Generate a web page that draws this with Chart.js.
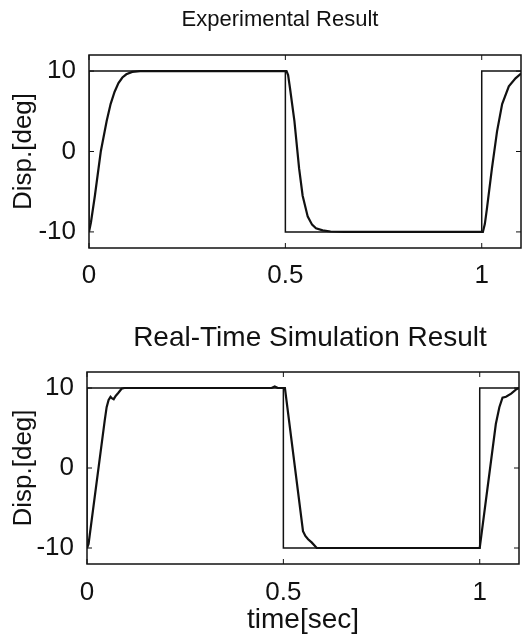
<!DOCTYPE html>
<html>
<head>
<meta charset="utf-8">
<script src="https://cdn.jsdelivr.net/npm/chart.js@4.4.1/dist/chart.umd.min.js"></script>
<style>
  body { margin: 0; background: #fff; overflow: hidden; }
  #wrap { position: relative; width: 522px; height: 641px; }
  canvas { position: absolute; left: 0; }
</style>
</head>
<body>
<div id="wrap">
  <canvas id="expChart" width="522" height="310" style="top:0px"></canvas>
  <canvas id="simChart" width="522" height="331" style="top:310px"></canvas>
</div>
<script>
// tick labels
const xTicks = [0, 0.5, 1];
const yTicks = [-10, 0, 10];

// commanded square wave
const refTime = [0, 0, 0.5, 0.5, 1, 1, 1.1];
const refDisp = [-10, 10, 10, -10, -10, 10, 10];

// experimental response
const expTime = [0, 0.005, 0.015, 0.03, 0.045, 0.055, 0.065, 0.075, 0.085, 0.095, 0.11, 0.13, 0.3,
  0.503, 0.507, 0.512, 0.523, 0.535, 0.544, 0.557, 0.568, 0.578, 0.595, 0.615, 0.65, 0.8,
  1.003, 1.008, 1.013, 1.026, 1.039, 1.052, 1.069, 1.086, 1.1];
const expDisp = [-10, -8.8, -5.5, 0, 3.8, 5.9, 7.4, 8.5, 9.2, 9.6, 9.9, 10, 10,
  10, 9.5, 7.8, 3.8, -2.1, -5.5, -8.1, -9.1, -9.55, -9.8, -9.95, -10, -10,
  -10, -9, -7.2, -2.1, 2.5, 5.9, 8.1, 9.1, 9.7];

// real-time simulation response
const simTime = [0, 0.004, 0.045, 0.05, 0.055, 0.06, 0.064, 0.068, 0.073, 0.08, 0.088, 0.095, 0.3,
  0.47, 0.478, 0.486, 0.504, 0.55, 0.556, 0.563, 0.572, 0.585, 0.8,
  1.0, 1.041, 1.05, 1.058, 1.067, 1.08, 1.092, 1.1];
const simDisp = [-10, -9.5, 5.9, 7.6, 8.5, 8.9, 8.7, 8.6, 9.0, 9.4, 9.9, 10, 10,
  10, 10.2, 10, 10, -7.9, -8.5, -8.9, -9.3, -10, -10,
  -10, 5.5, 7.6, 8.8, 8.9, 9.3, 9.8, 10];

const FONT = "'Liberation Sans', Arial, sans-serif";

function toPoints(xs, ys) {
  return xs.map((x, i) => ({ x: x, y: ys[i] }));
}

// box around the plot with inward ticks, matlab style
const boxPlugin = {
  id: 'box',
  afterDraw(chart) {
    const ctx = chart.ctx;
    const a = chart.chartArea;
    const xs = chart.scales.x, ys = chart.scales.y;
    ctx.save();
    ctx.strokeStyle = '#111';
    ctx.lineWidth = 1.5;
    ctx.strokeRect(a.left, a.top, a.right - a.left, a.bottom - a.top);
    ctx.lineWidth = 1;
    ctx.beginPath();
    xTicks.forEach(v => {
      const px = xs.getPixelForValue(v);
      ctx.moveTo(px, a.bottom); ctx.lineTo(px, a.bottom - 5);
      ctx.moveTo(px, a.top); ctx.lineTo(px, a.top + 5);
    });
    yTicks.forEach(v => {
      const py = ys.getPixelForValue(v);
      ctx.moveTo(a.left, py); ctx.lineTo(a.left + 5, py);
      ctx.moveTo(a.right, py); ctx.lineTo(a.right - 5, py);
    });
    ctx.stroke();
    ctx.restore();
  }
};

// panel title drawn at a fixed spot above the plot
const panelTitlePlugin = {
  id: 'panelTitle',
  afterDraw(chart, args, opts) {
    const ctx = chart.ctx;
    ctx.save();
    ctx.fillStyle = '#111';
    ctx.font = opts.size + 'px ' + FONT;
    ctx.textAlign = 'center';
    ctx.textBaseline = 'alphabetic';
    ctx.fillText(opts.text, opts.x, opts.y);
    ctx.restore();
  }
};

function makeChart(id, cfg) {
  return new Chart(document.getElementById(id), {
    type: 'line',
    data: {
      datasets: [
        { data: toPoints(refTime, refDisp), borderColor: '#111', borderWidth: 1.5, pointRadius: 0, tension: 0 },
        { data: toPoints(cfg.time, cfg.disp), borderColor: '#111', borderWidth: 2.2, pointRadius: 0, tension: 0 }
      ]
    },
    options: {
      responsive: false,
      animation: false,
      layout: { padding: { top: cfg.top, right: cfg.right, left: 0, bottom: 0 } },
      plugins: {
        legend: { display: false },
        tooltip: { enabled: false },
        panelTitle: cfg.title
      },
      scales: {
        x: {
          type: 'linear',
          min: 0,
          max: 1.1,
          afterBuildTicks: s => { s.ticks = xTicks.map(v => ({ value: v })); },
          afterFit: s => { s.height = cfg.xHeight; },
          grid: { display: false },
          border: { display: false },
          ticks: { color: '#111', font: { family: FONT, size: 26 }, padding: cfg.xPad, maxRotation: 0, callback: v => String(v) },
          title: cfg.xTitle
        },
        y: {
          min: -12,
          max: 12,
          afterBuildTicks: s => { s.ticks = yTicks.map(v => ({ value: v })); },
          afterFit: s => { s.width = cfg.left; },
          grid: { display: false },
          border: { display: false },
          ticks: { color: '#111', font: { family: FONT, size: 26 }, padding: 5, callback: v => String(v) },
          title: { display: true, text: 'Disp.[deg]', color: '#111', font: { family: FONT, size: 26 }, padding: { top: 8, bottom: 0 } }
        }
      }
    },
    plugins: [boxPlugin, panelTitlePlugin]
  });
}

makeChart('expChart', {
  time: expTime, disp: expDisp,
  top: 55, right: 1, left: 89, xHeight: 62, xPad: 4,
  title: { text: 'Experimental Result', x: 280, y: 26, size: 22 },
  xTitle: { display: false }
});

makeChart('simChart', {
  time: simTime, disp: simDisp,
  top: 62, right: 3, left: 87, xHeight: 77, xPad: 5,
  title: { text: 'Real-Time Simulation Result', x: 310, y: 36, size: 28 },
  xTitle: { display: true, text: 'time[sec]', color: '#111', font: { family: FONT, size: 28 }, padding: { top: 0, bottom: 4 } }
});
</script>
</body>
</html>
